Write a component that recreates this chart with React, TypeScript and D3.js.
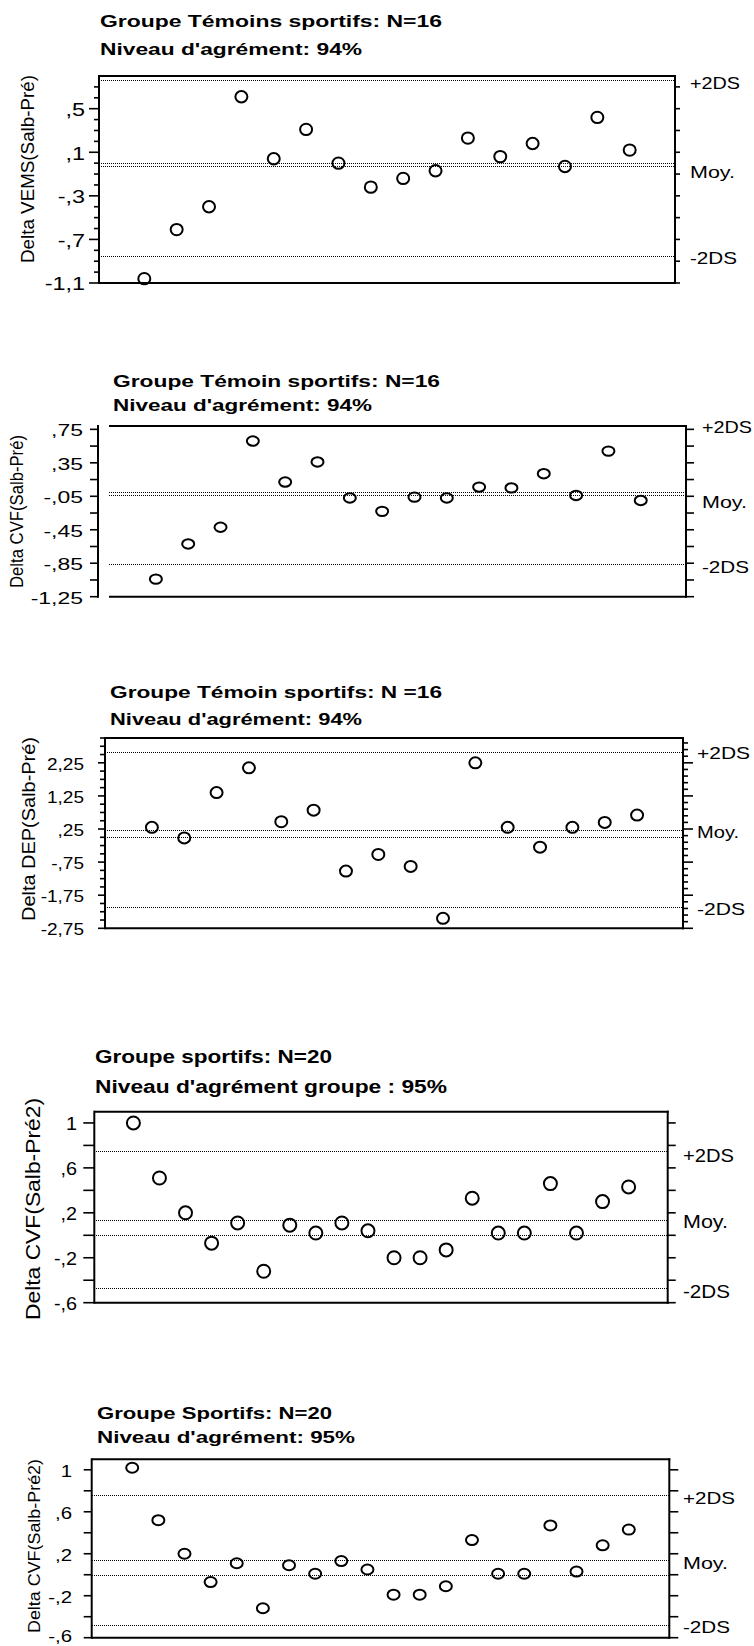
import React from "react";
import * as d3 from "d3";

const FONT = '"Liberation Sans", Arial, Helvetica, sans-serif';
const PAGE_H = 1646;

// ---- Bland-Altman style data (delta post-salbutamol minus pre) ----

// Delta VEMS, groupe témoin sportifs (N=16)
const vemsDelta = [-1.06, -0.61, -0.4, 0.61, 0.04, 0.31, 0.0, -0.22, -0.14, -0.07, 0.23, 0.06, 0.18, -0.03, 0.42, 0.12];
const vemsRefs = [0.76, 0, -0.03, -0.85]; // +2DS, zéro, moyenne, -2DS
const vemsTickValues = [-1.1, -0.7, -0.3, 0.1, 0.5];
const vemsTickLabels = ["-1,1", "-,7", "-,3", ",1", ",5"];

// Delta CVF, groupe témoin sportifs (N=16)
const cvfTemoinDelta = [-1.04, -0.62, -0.42, 0.61, 0.12, 0.36, -0.07, -0.23, -0.06, -0.07, 0.06, 0.05, 0.22, -0.04, 0.49, -0.1];
const cvfTemoinRefs = [0.79, 0, -0.03, -0.86];
const cvfTemoinTickValues = [-1.25, -0.85, -0.45, -0.05, 0.35, 0.75];
const cvfTemoinTickLabels = ["-1,25", "-,85", "-,45", "-,05", ",35", ",75"];

// Delta DEP, groupe témoin sportifs (N=16)
const depDelta = [0.3, -0.02, 1.35, 2.1, 0.47, 0.82, -1.02, -0.52, -0.88, -2.45, 2.25, 0.3, -0.3, 0.3, 0.45, 0.67];
const depRefs = [2.57, 0.23, 0, -2.1];
const depTickValues = [-2.75, -1.75, -0.75, 0.25, 1.25, 2.25];
const depTickLabels = ["-2,75", "-1,75", "-,75", ",25", "1,25", "2,25"];

// Delta CVF (Salb-Pré2), groupe sportifs (N=20)
const cvfSportDelta = [1.0, 0.51, 0.2, -0.07, 0.11, -0.32, 0.09, 0.02, 0.11, 0.04, -0.2, -0.2, -0.13, 0.33, 0.02, 0.02, 0.46, 0.02, 0.3, 0.43];
const cvfSportRefs = [0.75, 0.14, 0, -0.47];
const cvfSportTickValues = [-0.6, -0.2, 0.2, 0.6, 1.0];
const cvfSportTickLabels = ["-,6", "-,2", ",2", ",6", "1"];

// Same measure, second version of the plot
const cvfSport2Delta = [1.02, 0.52, 0.2, -0.07, 0.11, -0.32, 0.09, 0.01, 0.13, 0.05, -0.19, -0.19, -0.11, 0.33, 0.01, 0.01, 0.47, 0.03, 0.28, 0.43];
const cvfSport2Refs = [0.76, 0.14, 0, -0.48];

const refLabels = ["+2DS", "Moy.", "-2DS"];

type TickSpec = { from: number; to: number; step: number; len: number; majorLen: number; majorEvery?: number };

type PanelSpec = {
  title1: string;
  title2: string;
  titleX: number;
  title1Y: number;
  title2Y: number;
  title1Len: number;
  title2Len: number;
  titleSize: number;
  yTitle: string;
  yTitleX: number;
  yTitleY: number;
  yTitleLen: number;
  yTitleSize: number;
  values: number[];
  refs: number[];
  meanIndex: number;
  tickValues: number[];
  tickLabels: string[];
  padL: number;
  padR: number;
  yDomain: [number, number];
  axisX: number;
  left: number;
  right: number;
  top: number;
  bottom: number;
  leftTicks: TickSpec;
  rightTicks: TickSpec;
  labelRight: number;
  labelSize: number;
  labelStretch: number;
  labelDy: number;
  rightLabelX: number;
  rightLabelSize: number;
  rightLabelDy: number[];
  rightLabelLen: number[];
  rx: number;
  ry: number;
};

const panels: PanelSpec[] = [
  {
    title1: "Groupe Témoins sportifs: N=16",
    title2: "Niveau d'agrément: 94%",
    titleX: 100, title1Y: 27, title2Y: 55, title1Len: 342, title2Len: 262, titleSize: 16,
    yTitle: "Delta VEMS(Salb-Pré)", yTitleX: 34, yTitleY: 169, yTitleLen: 188, yTitleSize: 18,
    values: vemsDelta, refs: vemsRefs, meanIndex: 2,
    tickValues: vemsTickValues, tickLabels: vemsTickLabels,
    padL: 1.4, padR: 1.4, yDomain: [-1.1, 0.8],
    axisX: 99, left: 99, right: 675, top: 76, bottom: 283,
    leftTicks: { from: -1.1, to: 0.75, step: 0.1, len: 5, majorLen: 10 },
    rightTicks: { from: -1.1, to: 0.75, step: 0.2, len: 5, majorLen: 5 },
    labelRight: 85, labelSize: 18, labelStretch: 1.3, labelDy: 1,
    rightLabelX: 690, rightLabelSize: 17, rightLabelDy: [2.6, 5.6, 2.2], rightLabelLen: [50, 45, 47],
    rx: 6, ry: 5.7,
  },
  {
    title1: "Groupe Témoin sportifs: N=16",
    title2: "Niveau d'agrément: 94%",
    titleX: 113, title1Y: 386.5, title2Y: 410.7, title1Len: 327, title2Len: 259, titleSize: 16.5,
    yTitle: "Delta CVF(Salb-Pré)", yTitleX: 23, yTitleY: 511.5, yTitleLen: 153, yTitleSize: 18,
    values: cvfTemoinDelta, refs: cvfTemoinRefs, meanIndex: 2,
    tickValues: cvfTemoinTickValues, tickLabels: cvfTemoinTickLabels,
    padL: 1.45, padR: 1.4, yDomain: [-1.25, 0.79],
    axisX: 98, left: 109, right: 686, top: 426, bottom: 596.7,
    leftTicks: { from: -1.25, to: 0.76, step: 0.2, len: 8, majorLen: 8 },
    rightTicks: { from: -1.25, to: 0.76, step: 0.2, len: 8, majorLen: 8 },
    labelRight: 83, labelSize: 17, labelStretch: 1.35, labelDy: 1,
    rightLabelX: 702, rightLabelSize: 17, rightLabelDy: [0.7, 7.1, 2.6], rightLabelLen: [50, 45, 47],
    rx: 6, ry: 4.7,
  },
  {
    title1: "Groupe Témoin sportifs: N =16",
    title2: "Niveau d'agrément: 94%",
    titleX: 110, title1Y: 698.3, title2Y: 725, title1Len: 332, title2Len: 252, titleSize: 16,
    yTitle: "Delta DEP(Salb-Pré)", yTitleX: 35, yTitleY: 829, yTitleLen: 184, yTitleSize: 18,
    values: depDelta, refs: depRefs, meanIndex: 1,
    tickValues: depTickValues, tickLabels: depTickLabels,
    padL: 1.45, padR: 1.42, yDomain: [-2.75, 3.0],
    axisX: 105, left: 105, right: 683, top: 738, bottom: 928.3,
    leftTicks: { from: -2.75, to: 3.0, step: 0.25, len: 5, majorLen: 7 },
    rightTicks: { from: -2.75, to: 2.95, step: 0.2, len: 5, majorLen: 10, majorEvery: 5 },
    labelRight: 84, labelSize: 17, labelStretch: 1.12, labelDy: 1,
    rightLabelX: 697, rightLabelSize: 16.5, rightLabelDy: [1, 2, 2.5], rightLabelLen: [53, 42, 48],
    rx: 6, ry: 5.5,
  },
  {
    title1: "Groupe sportifs: N=20",
    title2: "Niveau d'agrément groupe : 95%",
    titleX: 95, title1Y: 1062.7, title2Y: 1092.7, title1Len: 237, title2Len: 352, titleSize: 17.5,
    yTitle: "Delta CVF(Salb-Pré2)", yTitleX: 40, yTitleY: 1209, yTitleLen: 222, yTitleSize: 21,
    values: cvfSportDelta, refs: cvfSportRefs, meanIndex: 1,
    tickValues: cvfSportTickValues, tickLabels: cvfSportTickLabels,
    padL: 1.5, padR: 1.5, yDomain: [-0.6, 1.1],
    axisX: 94.3, left: 94.3, right: 667.7, top: 1111.7, bottom: 1302.7,
    leftTicks: { from: -0.6, to: 1.0, step: 0.2, len: 11, majorLen: 11 },
    rightTicks: { from: -0.6, to: 1.0, step: 0.2, len: 8, majorLen: 8 },
    labelRight: 77, labelSize: 18, labelStretch: 1.1, labelDy: 1,
    rightLabelX: 683, rightLabelSize: 18.5, rightLabelDy: [4, 2, 3.6], rightLabelLen: [51, 45, 47],
    rx: 6.5, ry: 6.5,
  },
  {
    title1: "Groupe Sportifs: N=20",
    title2: "Niveau d'agrément: 95%",
    titleX: 97, title1Y: 1419.3, title2Y: 1443.3, title1Len: 235, title2Len: 258, titleSize: 16.5,
    yTitle: "Delta CVF(Salb-Pré2)", yTitleX: 40, yTitleY: 1546, yTitleLen: 174, yTitleSize: 16,
    values: cvfSport2Delta, refs: cvfSport2Refs, meanIndex: 1,
    tickValues: cvfSportTickValues, tickLabels: cvfSportTickLabels,
    padL: 1.55, padR: 1.55, yDomain: [-0.6, 1.1],
    axisX: 91.7, left: 91.7, right: 669.3, top: 1459.3, bottom: 1637.7,
    leftTicks: { from: -0.6, to: 1.0, step: 0.2, len: 8, majorLen: 8 },
    rightTicks: { from: -0.6, to: 1.0, step: 0.2, len: 9, majorLen: 9 },
    labelRight: 72, labelSize: 17, labelStretch: 1.2, labelDy: 1,
    rightLabelX: 683, rightLabelSize: 17, rightLabelDy: [3.3, 2.7, 2.2], rightLabelLen: [52, 45, 47],
    rx: 6, ry: 5,
  },
];

function Panel({ s }: { s: PanelSpec }) {
  const n = s.values.length;
  const x = d3.scaleLinear().domain([1 - s.padL, n + s.padR]).range([s.left, s.right]);
  const y = d3.scaleLinear().domain(s.yDomain).range([s.bottom, s.top]);
  const snap = (v: number) => Math.round(v) + 0.5;

  const leftTicks = d3.range(s.leftTicks.from, s.leftTicks.to + 1e-9, s.leftTicks.step);
  const isLabelled = (v: number) => s.tickValues.some((t) => Math.abs(t - v) < 1e-6);
  const rightTicks = d3.range(s.rightTicks.from, s.rightTicks.to + 1e-9, s.rightTicks.step);
  const refLabelIdx = [0, s.meanIndex, s.refs.length - 1];

  // keep the lowest tick label inside the page
  const labelBaseline = (v: number) =>
    Math.min(y(v) + 0.36 * s.labelSize + s.labelDy, PAGE_H - 4);

  return (
    <g>
      <text x={s.titleX} y={s.title1Y} fontSize={s.titleSize} fontWeight="bold"
        textLength={s.title1Len} lengthAdjust="spacingAndGlyphs">{s.title1}</text>
      <text x={s.titleX} y={s.title2Y} fontSize={s.titleSize} fontWeight="bold"
        textLength={s.title2Len} lengthAdjust="spacingAndGlyphs">{s.title2}</text>

      <text transform={`translate(${s.yTitleX},${s.yTitleY}) rotate(-90)`} textAnchor="middle"
        fontSize={s.yTitleSize} textLength={s.yTitleLen} lengthAdjust="spacingAndGlyphs">{s.yTitle}</text>

      {/* reference lines: ±2DS, moyenne, zéro */}
      {s.refs.map((r, i) => (
        <line key={`ref${i}`} x1={s.left} x2={s.right} y1={snap(y(r))} y2={snap(y(r))}
          stroke="#000" strokeWidth={1} strokeDasharray="1 1" shapeRendering="crispEdges" />
      ))}

      {/* left axis */}
      <line x1={s.axisX} x2={s.axisX} y1={s.top - 1} y2={s.bottom + 1} stroke="#000" strokeWidth={2} />
      {leftTicks.map((v, i) => {
        const len = isLabelled(v) ? s.leftTicks.majorLen : s.leftTicks.len;
        return (
          <line key={`lt${i}`} x1={s.axisX - len} x2={s.axisX} y1={y(v)} y2={y(v)} stroke="#000" strokeWidth={1.6} />
        );
      })}
      {s.tickValues.map((v, i) => (
        <text key={`tl${i}`} transform={`translate(${s.labelRight},${labelBaseline(v)}) scale(${s.labelStretch},1)`}
          textAnchor="end" fontSize={s.labelSize}>{s.tickLabels[i]}</text>
      ))}

      {/* frame */}
      <line x1={s.left} x2={s.right + 1} y1={s.top} y2={s.top} stroke="#000" strokeWidth={2} />
      <line x1={s.left} x2={s.right + 1} y1={s.bottom} y2={s.bottom} stroke="#000" strokeWidth={2} />
      <line x1={s.right} x2={s.right} y1={s.top - 1} y2={s.bottom + 1} stroke="#000" strokeWidth={2} />

      {/* right axis */}
      {rightTicks.map((v, i) => {
        const every = s.rightTicks.majorEvery ?? 1;
        const len = i % every === 0 ? s.rightTicks.majorLen : s.rightTicks.len;
        return (
          <line key={`rt${i}`} x1={s.right} x2={s.right + len} y1={y(v)} y2={y(v)} stroke="#000" strokeWidth={1.6} />
        );
      })}
      {refLabels.map((t, i) => (
        <text key={`rl${i}`} x={s.rightLabelX}
          y={y(s.refs[refLabelIdx[i]]) + s.rightLabelDy[i] + 0.358 * s.rightLabelSize}
          fontSize={s.rightLabelSize} textLength={s.rightLabelLen[i]} lengthAdjust="spacingAndGlyphs">{t}</text>
      ))}

      {/* cases */}
      {s.values.map((v, i) => (
        <ellipse key={`pt${i}`} cx={x(i + 1)} cy={y(v)} rx={s.rx} ry={s.ry}
          fill="none" stroke="#000" strokeWidth={2} />
      ))}
    </g>
  );
}

export default function App() {
  return (
    <svg width={754} height={PAGE_H} viewBox={`0 0 754 ${PAGE_H}`}
      style={{ position: "absolute", left: 0, top: 0, background: "#fff", display: "block" }}
      fontFamily={FONT} fill="#000">
      <rect x={0} y={0} width={754} height={PAGE_H} fill="#fff" />
      {panels.map((p, i) => (
        <Panel key={i} s={p} />
      ))}
    </svg>
  );
}
